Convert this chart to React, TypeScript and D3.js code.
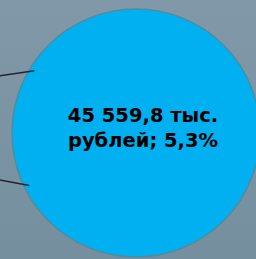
import React, { useRef, useEffect } from "react"
import * as d3 from "d3"

// одна доля, показанная крупно
const sliceValue = [45559.8]
const slicePercent = [5.3]
const sliceUnit = ["тыс.", "рублей"]

// выноски от соседних подписей (угол точки на круге, наклон линии)
const leaderAngles = [211.5, 153.8]
const leaderSlopes = [-0.145, 0.187]

const W = 256
const H = 259

function App() {
  const ref = useRef<SVGSVGElement>(null)

  useEffect(() => {
    const svg = d3.select(ref.current)
    svg.selectAll("*").remove()

    const defs = svg.append("defs")
    const grad = defs
      .append("linearGradient")
      .attr("id", "bg")
      .attr("x1", 0)
      .attr("y1", 0)
      .attr("x2", 0)
      .attr("y2", 1)
    grad.append("stop").attr("offset", "0%").attr("stop-color", "#8098a7")
    grad.append("stop").attr("offset", "100%").attr("stop-color", "#768f9f")

    svg
      .append("rect")
      .attr("width", W)
      .attr("height", H)
      .attr("fill", "url(#bg)")

    const cx = 136
    const cy = 133
    const r = d3.scaleSqrt().domain([0, sliceValue[0]]).range([0, 124])
    const R = r(sliceValue[0])

    const pie = d3.pie<number>().sort(null)(sliceValue)
    const arc = d3.arc<d3.PieArcDatum<number>>().innerRadius(0).outerRadius(R)

    const g = svg.append("g").attr("transform", `translate(${cx},${cy})`)

    g.selectAll("path")
      .data(pie)
      .join("path")
      .attr("d", arc)
      .attr("fill", "#00b0f0")
      .attr("stroke", "#4b8ea4")
      .attr("stroke-width", 1.5)

    // выноски
    leaderAngles.forEach((a, i) => {
      const rad = (a * Math.PI) / 180
      const ex = Math.cos(rad) * R * 0.96
      const ey = Math.sin(rad) * R * 0.96
      const x0 = -cx
      const y0 = ey - leaderSlopes[i] * (ex - x0)
      g.append("line")
        .attr("x1", x0)
        .attr("y1", y0)
        .attr("x2", ex)
        .attr("y2", ey)
        .attr("stroke", "#1e2731")
        .attr("stroke-width", 1.5)
    })

    const fmt = (v: number) =>
      d3.format(",.1f")(v).replace(/,/g, " ").replace(".", ",")
    const lines = [
      `${fmt(sliceValue[0])} ${sliceUnit[0]}`,
      `${sliceUnit[1]}; ${String(slicePercent[0]).replace(".", ",")}%`,
    ]

    svg
      .append("text")
      .attr("text-anchor", "middle")
      .attr("font-family", "'DejaVu Sans', sans-serif")
      .attr("font-weight", "bold")
      .attr("font-size", 19.5)
      .attr("fill", "#000")
      .selectAll("tspan")
      .data(lines)
      .join("tspan")
      .attr("x", 143)
      .attr("y", (d, i) => 122 + i * 25)
      .text(d => d)
  }, [])

  return (
    <svg
      ref={ref}
      width={W}
      height={H}
      style={{ position: "absolute", left: 0, top: 0, display: "block" }}
    />
  )
}

export default App
